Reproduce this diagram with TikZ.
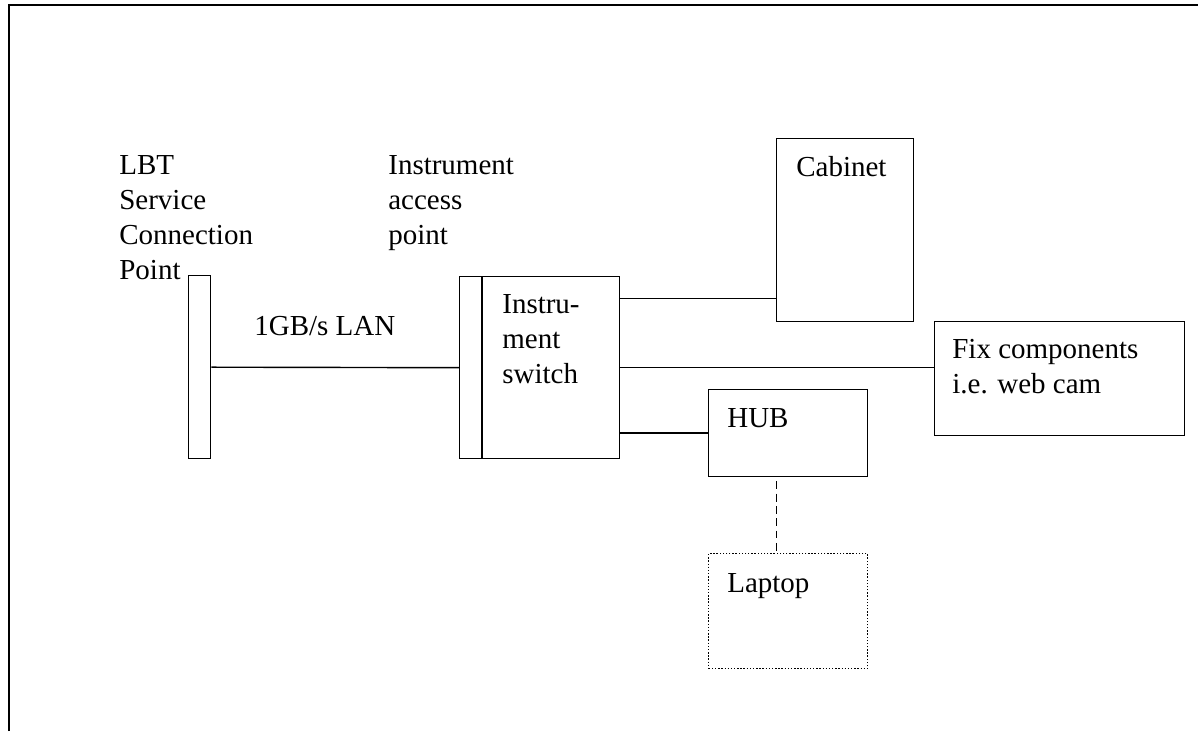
\documentclass[tikz,border=0pt]{standalone}
\usepackage{fontspec}
\setmainfont{Liberation Serif}
\newcommand\dgfont{\fontsize{16.5}{19.9}\selectfont}

\begin{document}
\begin{tikzpicture}[x=0.02cm, y=-0.02cm,
	box/.style={draw, line width=0.8pt, inner sep=0pt, anchor=north west},
	txt/.style={font=\dgfont, inner sep=0pt, anchor=base west, align=left},
	link/.style={line width=0.8pt}]
	\useasboundingbox (0,0) rectangle (1198,731);
	\draw[line width=1.4pt] (9,731) -- (9,5) -- (1198,5);
	% boxes
	\node[box, minimum width=0.44cm, minimum height=3.66cm] (lbt) at (188,275) {};
	\node[box, minimum width=3.2cm, minimum height=3.64cm] (switch) at (459,276) {};
	\draw[link] ([xshift=0.46cm]switch.north west) -- ([xshift=0.46cm]switch.south west);
	\node[box, minimum width=2.74cm, minimum height=3.66cm] (cabinet) at (776,138) {};
	\node[box, minimum width=5cm, minimum height=2.28cm] (fixcomp) at (934,321) {};
	\node[box, minimum width=3.18cm, minimum height=1.74cm] (hub) at (708,389) {};
	\node[box, densely dotted, minimum width=3.18cm, minimum height=2.3cm] (laptop) at (708,553) {};
	% texts (base = last line)
	\node[txt] (lbttxt) at (119,279) {LBT\\Service\\Connection\\Point};
	\node[txt] (iaptxt) at (388,244) {Instrument\\access\\point};
	\node[txt] (lantxt) at (254,335) {1GB/s LAN};
	\node[txt] (switchtxt) at (502,383) {Instru-\\ment\\switch};
	\node[txt] (cabtxt) at (796,176) {Cabinet};
	\node[txt] (fixtxt) at (952,393) {Fix components\\i.e. web cam};
	\node[txt] (hubtxt) at (727,427) {HUB};
	\node[txt] (laptoptxt) at (727,592) {Laptop};
	% links
	\coordinate (cabin) at ([yshift=0.48cm]cabinet.south west);
	\coordinate (hubout) at ([xshift=-0.23cm]hub.south);
	\coordinate (laptopin) at ([xshift=-0.23cm]laptop.north);
	\draw[link] (lbt.east) -- (switch.west);
	\draw[link] (switch.east |- cabin) -- (cabin);
	\draw[link] (switch.east) -- (fixcomp.west |- switch.east);
	\draw[link] (switch.east |- hub.west) -- (hub.west);
	\draw[link, dash pattern=on 4.5pt off 2.5pt] ([yshift=-0.08cm]hubout) -- (laptopin);
\end{tikzpicture}
\end{document}
